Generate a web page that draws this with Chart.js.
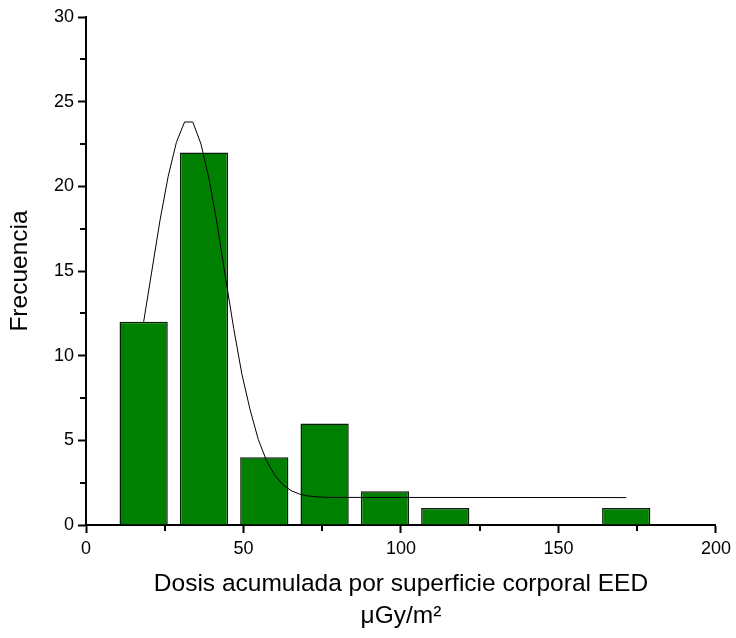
<!DOCTYPE html>
<html>
<head>
<meta charset="utf-8">
<script src="https://cdn.jsdelivr.net/npm/chart.js@4"></script>
<style>
  html, body { margin: 0; padding: 0; background: #fff; }
  #wrap { width: 736px; height: 638px; }
</style>
</head>
<body>
<div id="wrap"><canvas id="histChart" width="736" height="638"></canvas></div>
<script>
// histogram bins (centre of each bin) and counts
const binCenters = [18.3, 37.45, 56.6, 75.75, 94.9, 114.05, 133.2, 152.35, 171.5];
const counts = [12, 22, 4, 6, 2, 1, 0, 0, 1];

// gaussian fit curve
const fitX = [18.3, 20.9, 23.5, 26.1, 28.7, 31.3, 33.9, 36.5, 39.1, 41.7, 44.3, 46.9, 49.5, 52.1,
              54.7, 57.3, 59.9, 62.5, 65.1, 67.7, 70.3, 72.9, 75.5, 78.1, 171.5];
const fitY = [12.0, 15.0, 18.0, 20.6, 22.6, 23.8, 23.8, 22.5, 20.4, 17.7, 14.6, 11.6, 8.9, 6.8,
              5.05, 3.8, 2.95, 2.38, 2.03, 1.83, 1.72, 1.67, 1.64, 1.63, 1.62];

// axis ticks
const xMajor = [0, 50, 100, 150, 200];
const xMinor = [25, 75, 125, 175];
const yMajor = [0, 5, 10, 15, 20, 25, 30];
const yMinor = [2.5, 7.5, 12.5, 17.5, 22.5, 27.5];

const FONT = "'Liberation Sans', Arial, sans-serif";

// bars with zero count are not drawn
const barData = [];
binCenters.forEach((c, i) => {
    if (counts[i] > 0) barData.push({ x: c, y: counts[i] });
});
const fitData = fitX.map((x, i) => ({ x: x, y: fitY[i] }));

// small minor ticks, Chart.js has no minor ticks of its own
const minorTicks = {
    id: 'minorTicks',
    afterDraw(chart) {
        const ctx = chart.ctx;
        const xs = chart.scales.x;
        const ys = chart.scales.y;
        ctx.save();
        ctx.strokeStyle = '#000';
        ctx.lineWidth = 2;
        ctx.beginPath();
        xMinor.forEach(v => {
            const px = Math.round(xs.getPixelForValue(v));
            ctx.moveTo(px, ys.bottom);
            ctx.lineTo(px, ys.bottom + 6);
        });
        yMinor.forEach(v => {
            const py = Math.round(ys.getPixelForValue(v));
            ctx.moveTo(xs.left, py);
            ctx.lineTo(xs.left - 6, py);
        });
        ctx.stroke();
        ctx.restore();
    }
};

new Chart(document.getElementById('histChart').getContext('2d'), {
    type: 'bar',
    data: {
        datasets: [
            {
                type: 'line',
                data: fitData,
                borderColor: '#000',
                borderWidth: 1,
                pointRadius: 0,
                tension: 0,
                fill: false,
                order: 0
            },
            {
                type: 'bar',
                data: barData,
                backgroundColor: '#008000',
                borderColor: '#0a1a0a',
                borderWidth: 1.5,
                borderSkipped: 'start',
                barPercentage: 0.8,
                categoryPercentage: 1.0,
                order: 1
            }
        ]
    },
    options: {
        responsive: false,
        animation: false,
        events: [],
        layout: { padding: { top: 17, right: 20, bottom: 0, left: 0 } },
        plugins: {
            legend: { display: false },
            tooltip: { enabled: false }
        },
        scales: {
            x: {
                type: 'linear',
                min: 0,
                max: 200,
                offset: false,
                afterBuildTicks: s => { s.ticks = xMajor.map(v => ({ value: v })); },
                afterFit: s => { s.height = 113; },
                grid: { display: true, drawOnChartArea: false, offset: false, tickLength: 8, tickWidth: 2, tickColor: '#000' },
                border: { display: true, color: '#000', width: 2 },
                ticks: { color: '#000', font: { family: FONT, size: 18 }, padding: 5, maxRotation: 0 },
                title: {
                    display: true,
                    text: ['Dosis acumulada por superficie corporal EED', 'μGy/m²'],
                    color: '#000',
                    font: { family: FONT, size: 24.5, lineHeight: '32px' },
                    padding: { top: 0, bottom: 6 }
                }
            },
            y: {
                min: 0,
                max: 30,
                afterBuildTicks: s => { s.ticks = yMajor.map(v => ({ value: v })); },
                afterFit: s => { s.width = 86; },
                grid: { display: true, drawOnChartArea: false, tickLength: 8, tickWidth: 2, tickColor: '#000' },
                border: { display: true, color: '#000', width: 2 },
                ticks: { color: '#000', font: { family: FONT, size: 18 }, padding: 4 },
                title: {
                    display: true,
                    text: 'Frecuencia',
                    color: '#000',
                    font: { family: FONT, size: 24.5 },
                    padding: { top: 6, bottom: 0 }
                }
            }
        }
    },
    plugins: [minorTicks]
});
</script>
</body>
</html>
